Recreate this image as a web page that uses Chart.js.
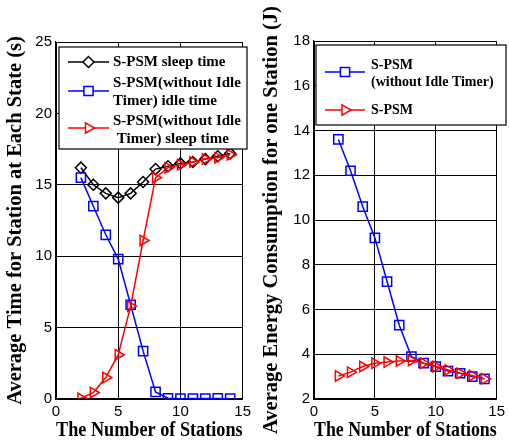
<!DOCTYPE html>
<html>
<head>
<meta charset="utf-8">
<script src="https://cdn.jsdelivr.net/npm/chart.js@4.4.1/dist/chart.umd.min.js"></script>
<style>
  html, body { margin: 0; padding: 0; background: #fff; }
  #wrap { position: relative; width: 509px; height: 441px; overflow: hidden; }
  #leftChart { position: absolute; left: 0; top: 0; }
  #rightChart { position: absolute; left: 255px; top: 0; }
</style>
</head>
<body>
<div id="wrap">
  <canvas id="leftChart" width="255" height="441"></canvas>
  <canvas id="rightChart" width="254" height="441"></canvas>
</div>
<script>
// ============================
// Data
// ============================
const stations = [2, 3, 4, 5, 6, 7, 8, 9, 10, 11, 12, 13, 14];

// left panel: average time per state (s)
const spsmSleepTime = [16.2, 15.0, 14.4, 14.1, 14.4, 15.2, 16.1, 16.3, 16.5, 16.6, 16.8, 17.0, 17.2];
const noIdleIdleTime = [15.5, 13.5, 11.5, 9.8, 6.6, 3.35, 0.5, 0.05, 0.02, 0.03, 0.03, 0.04, 0.02];
const noIdleSleepTime = [0.05, 0.45, 1.5, 3.1, 6.5, 11.1, 15.5, 16.2, 16.4, 16.6, 16.8, 16.9, 17.1];

// right panel: energy per station (J)
const energyNoIdle = [13.6, 12.2, 10.6, 9.2, 7.25, 5.3, 3.9, 3.6, 3.45, 3.25, 3.15, 3.0, 2.9];
const energySpsm = [3.03, 3.2, 3.45, 3.6, 3.65, 3.7, 3.72, 3.6, 3.45, 3.3, 3.15, 3.05, 2.9];

const xTicks = [0, 5, 10, 15];
const leftYTicks = [0, 5, 10, 15, 20, 25];
const rightYTicks = [2, 4, 6, 8, 10, 12, 14, 16, 18];

const SERIF = "'Liberation Serif', 'Times New Roman', serif";
const SANS = "'Liberation Sans', Arial, sans-serif";

const toPoints = ys => stations.map((x, i) => ({ x: x, y: ys[i] }));

// ============================
// Legend box drawn inside the plot
// ============================
const boxLegend = {
  id: "boxLegend",
  afterDraw(chart, args, opts) {
    const ctx = chart.ctx;
    const b = opts.box;
    ctx.save();
    ctx.fillStyle = "#fff";
    ctx.fillRect(b.x, b.y, b.w, b.h);
    ctx.strokeStyle = "#000";
    ctx.lineWidth = 1.2;
    ctx.strokeRect(b.x, b.y, b.w, b.h);

    opts.items.forEach(item => {
      const ds = chart.data.datasets[item.dataset];
      // sample line
      ctx.strokeStyle = ds.borderColor;
      ctx.lineWidth = ds.borderWidth;
      ctx.beginPath();
      ctx.moveTo(opts.lineX0, item.lineY);
      ctx.lineTo(opts.lineX1, item.lineY);
      ctx.stroke();
      // marker
      ctx.fillStyle = "#fff";
      ctx.strokeStyle = ds.pointBorderColor;
      ctx.lineWidth = ds.pointBorderWidth;
      Chart.helpers.drawPoint(ctx, {
        pointStyle: ds.pointStyle,
        rotation: ds.pointRotation || 0,
        radius: ds.pointRadius,
        borderWidth: ds.pointBorderWidth
      }, (opts.lineX0 + opts.lineX1) / 2, item.lineY);
      // label text
      ctx.fillStyle = "#000";
      ctx.font = "bold " + opts.fontSize + "px " + SERIF;
      ctx.textBaseline = "middle";
      ctx.textAlign = "left";
      item.text.forEach((t, k) => {
        ctx.fillText(t, opts.textX, item.textY[k]);
      });
    });
    ctx.restore();
  }
};

function makeScales(yTicks, yTitle, yWidth, yTitlePad) {
  return {
    x: {
      type: "linear",
      min: 0,
      max: 15,
      afterBuildTicks: axis => { axis.ticks = xTicks.map(v => ({ value: v })); },
      afterFit: axis => { axis.height = 42; },
      grid: { color: "#000", lineWidth: 1, drawTicks: false },
      border: { color: "#000", width: 1.2 },
      ticks: { color: "#000", font: { family: SANS, size: 15 }, padding: 4, maxRotation: 0 },
      title: {
        display: true,
        text: "The Number of Stations",
        color: "#000",
        font: { family: SERIF, size: 20, weight: "bold", lineHeight: 1 },
        padding: { top: 0, bottom: 0 }
      }
    },
    y: {
      type: "linear",
      min: yTicks[0],
      max: yTicks[yTicks.length - 1],
      afterBuildTicks: axis => { axis.ticks = yTicks.map(v => ({ value: v })); },
      afterFit: axis => { axis.width = yWidth; },
      grid: { color: "#000", lineWidth: 1, drawTicks: false },
      border: { color: "#000", width: 1.2 },
      ticks: { color: "#000", font: { family: SANS, size: 15 }, padding: 4 },
      title: {
        display: true,
        text: yTitle,
        color: "#000",
        font: { family: SERIF, size: 20.5, weight: "bold", lineHeight: 1 },
        padding: { top: yTitlePad, bottom: 0 }
      }
    }
  };
}

const baseOptions = {
  responsive: false,
  animation: false,
  plugins: { legend: { display: false }, tooltip: { enabled: false } }
};

// ============================
// Left chart: time at each state
// ============================
new Chart(document.getElementById("leftChart").getContext("2d"), {
  type: "line",
  data: {
    datasets: [
      {
        label: "S-PSM sleep time",
        data: toPoints(spsmSleepTime),
        borderColor: "#000",
        borderWidth: 1.5,
        pointStyle: "rectRot",
        pointRadius: 5.5,
        pointBorderColor: "#000",
        pointBackgroundColor: "rgba(0,0,0,0)",
        pointBorderWidth: 1.5,
        tension: 0,
        order: 3
      },
      {
        label: "S-PSM(without Idle Timer) idle time",
        data: toPoints(noIdleIdleTime),
        borderColor: "#0000ff",
        borderWidth: 1.5,
        pointStyle: "rect",
        pointRadius: 6.5,
        pointBorderColor: "#0000ff",
        pointBackgroundColor: "rgba(0,0,0,0)",
        pointBorderWidth: 1.5,
        tension: 0,
        order: 2
      },
      {
        label: "S-PSM(without Idle Timer) sleep time",
        data: toPoints(noIdleSleepTime),
        borderColor: "#ff0000",
        borderWidth: 1.5,
        pointStyle: "triangle",
        pointRotation: 90,
        pointRadius: 6,
        pointBorderColor: "#ff0000",
        pointBackgroundColor: "rgba(0,0,0,0)",
        pointBorderWidth: 1.5,
        tension: 0,
        order: 1
      }
    ]
  },
  options: Object.assign({}, baseOptions, {
    layout: { padding: { left: 0, right: 7, top: 42, bottom: 0 } },
    scales: makeScales(leftYTicks, "Average Time for Station at Each State (s)", 56, 5),
    plugins: Object.assign({}, baseOptions.plugins, {
      boxLegend: {
        box: { x: 59, y: 47, w: 188, h: 102 },
        lineX0: 68, lineX1: 109, textX: 113, fontSize: 15,
        items: [
          { dataset: 0, lineY: 62, text: ["S-PSM sleep time"], textY: [62] },
          { dataset: 1, lineY: 91, text: ["S-PSM(without Idle", "Timer) idle time"], textY: [83, 101] },
          { dataset: 2, lineY: 128, text: ["S-PSM(without Idle", " Timer) sleep time"], textY: [121, 139] }
        ]
      }
    })
  }),
  plugins: [boxLegend]
});

// ============================
// Right chart: energy consumption
// ============================
new Chart(document.getElementById("rightChart").getContext("2d"), {
  type: "line",
  data: {
    datasets: [
      {
        label: "S-PSM (without Idle Timer)",
        data: toPoints(energyNoIdle),
        borderColor: "#0000ff",
        borderWidth: 1.5,
        pointStyle: "rect",
        pointRadius: 6.5,
        pointBorderColor: "#0000ff",
        pointBackgroundColor: "rgba(0,0,0,0)",
        pointBorderWidth: 1.5,
        tension: 0,
        order: 2
      },
      {
        label: "S-PSM",
        data: toPoints(energySpsm),
        borderColor: "#ff0000",
        borderWidth: 1.5,
        pointStyle: "triangle",
        pointRotation: 90,
        pointRadius: 6,
        pointBorderColor: "#ff0000",
        pointBackgroundColor: "rgba(0,0,0,0)",
        pointBorderWidth: 1.5,
        tension: 0,
        order: 1
      }
    ]
  },
  options: Object.assign({}, baseOptions, {
    layout: { padding: { left: 0, right: 3, top: 41, bottom: 0 } },
    scales: makeScales(rightYTicks, "Average Energy Consumption for one Station (J)", 59, 6),
    plugins: Object.assign({}, baseOptions.plugins, {
      boxLegend: {
        box: { x: 61, y: 45, w: 190, h: 80 },
        lineX0: 70, lineX1: 110, textX: 116, fontSize: 14,
        items: [
          { dataset: 0, lineY: 72, text: ["S-PSM", "(without Idle Timer)"], textY: [65, 82] },
          { dataset: 1, lineY: 110, text: ["S-PSM"], textY: [110] }
        ]
      }
    })
  }),
  plugins: [boxLegend]
});
</script>
</body>
</html>
